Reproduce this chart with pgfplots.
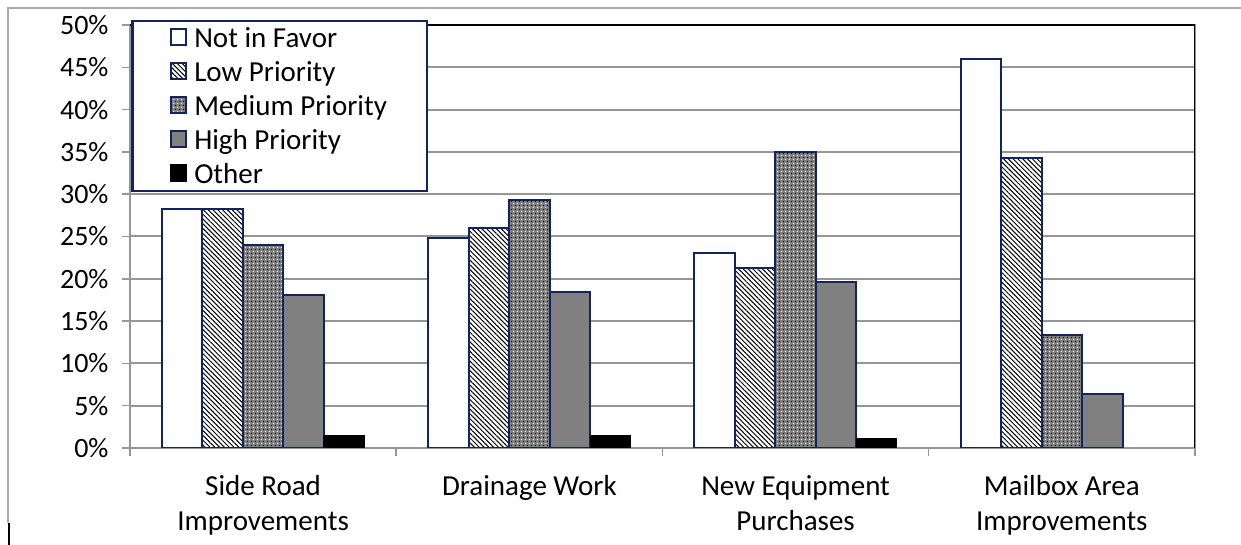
\documentclass[border=0pt]{standalone}
\usepackage{pgfplots}
\pgfplotsset{compat=1.18}
\usepackage{fontspec}
\setmainfont{Carlito}
\usetikzlibrary{patterns.meta}

\definecolor{navy}{RGB}{18,36,94}
\definecolor{gridgray}{RGB}{150,150,150}
\definecolor{midgray}{RGB}{128,128,128}
\definecolor{framegray}{RGB}{170,170,170}

\begin{document}
\begin{tikzpicture}[x=1pt,y=1pt]
\path[use as bounding box] (0,0) rectangle (1241,545);
% page frame
\draw[framegray, line width=1.5pt] (8,22) -- (8,537) -- (1241,537);
\draw[black, line width=1.5pt] (9,0) -- (9,22);

\begin{axis}[
  at={(130pt,97pt)}, anchor=south west,
  scale only axis, width=1065pt, height=423pt,
  xmin=-0.5, xmax=3.5, ymin=0, ymax=50,
  ybar=0pt, bar width=0.152,
  /pgf/number format/assume math mode=true,
  ytick={0,5,...,50},
  yticklabel={\pgfmathprintnumber{\tick}\%},
  yticklabel style={font=\fontsize{28}{32}\selectfont, xshift=-10pt},
  xtick={0,1,2,3},
  xticklabels={{Side Road\\Improvements},{Drainage Work},{New Equipment\\Purchases},{Mailbox Area\\Improvements}},
  xticklabel style={font=\fontsize{29}{35}\selectfont, align=center, yshift=-16pt},
  major x tick style={draw=none},
  minor xtick={-0.5,0.5,1.5,2.5,3.5},
  minor x tick style={draw=gridgray, line width=1.5pt},
  major y tick style={draw=gridgray, line width=1.5pt},
  tick align=outside,
  major tick length=8pt, minor tick length=8pt,
  xtick pos=bottom, ytick pos=left,
  axis line style={draw=gridgray, line width=1.5pt},
  ymajorgrids, major grid style={draw=gridgray, line width=2pt},
  legend cell align=left,
  legend style={at={(rel axis cs:0,1)}, anchor=north west, xshift=1pt, yshift=5pt,
    draw=navy, line width=2.5pt, fill=white,
    font=\fontsize{29}{33}\selectfont,
    inner xsep=38pt, inner ysep=4pt, row sep=8.5pt, column sep=5pt},
  legend image code/.code={\draw[#1, line width=2pt] (0pt,-7pt) rectangle (15pt,9pt);},
]
\addplot[draw=navy, line width=2pt, fill=white]
  coordinates {(0,28.3) (1,24.8) (2,23.0) (3,46.0)};
\addplot[draw=navy, line width=2pt, fill=white,
  postaction={pattern={Lines[angle=-45, distance=3.4pt, line width=1pt]}}]
  coordinates {(0,28.3) (1,26.0) (2,21.3) (3,34.3)};
\addplot[draw=navy, line width=2pt, fill=midgray,
  postaction={pattern={Dots[distance=4pt, radius=0.8pt]}},
  postaction={pattern={Dots[distance=4pt, radius=0.7pt, xshift=2pt, yshift=2pt]}, pattern color=white}]
  coordinates {(0,24.0) (1,29.3) (2,35.0) (3,13.4)};
\addplot[draw=navy, line width=2pt, fill=midgray]
  coordinates {(0,18.1) (1,18.4) (2,19.6) (3,6.4)};
\addplot[draw=black, line width=1pt, fill=black]
  coordinates {(0,1.45) (1,1.45) (2,1.1)};
\legend{Not in Favor, Low Priority, Medium Priority, High Priority, Other}
\draw[black, line width=1.5pt] (rel axis cs:0,1) -- (rel axis cs:1,1) -- (rel axis cs:1,0);
\end{axis}
\end{tikzpicture}
\end{document}
